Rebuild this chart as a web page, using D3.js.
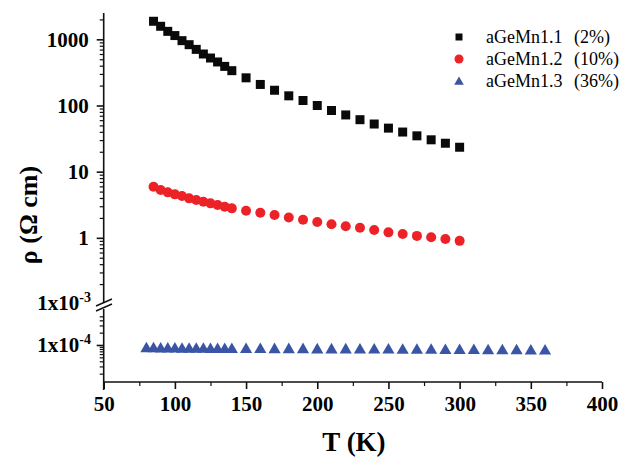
<!DOCTYPE html>
<html>
<head>
<meta charset="utf-8">
<script src="https://cdn.jsdelivr.net/npm/d3@7"></script>
<style>
  body { margin: 0; background: #fff; }
  text { font-family: "Liberation Serif", "Times New Roman", serif; }
</style>
</head>
<body>
<script>
// temperatures (K) and resistivities (ohm cm)
var tempSq = [85, 90, 95, 100, 105, 110, 115, 120, 125, 130, 135, 140,
  150, 160, 170, 180, 190, 200, 210, 220, 230, 240, 250, 260, 270, 280, 290, 300];
var rhoSq = [1875, 1575, 1320, 1140, 955, 830, 705, 600, 522, 455, 390, 336,
  262, 208, 170, 140, 119, 100, 84, 72, 61, 52.5, 45.5, 39.7, 34.8, 30.3, 26.9, 23.4];

var tempCirc = [85, 90, 95, 100, 105, 110, 115, 120, 125, 130, 135, 140,
  150, 160, 170, 180, 190, 200, 210, 220, 230, 240, 250, 260, 270, 280, 290, 300];
var rhoCirc = [5.93, 5.28, 4.87, 4.54, 4.28, 3.95, 3.73, 3.51, 3.32, 3.13, 2.95, 2.79,
  2.56, 2.39, 2.21, 2.03, 1.88, 1.73, 1.60, 1.50, 1.42, 1.31, 1.21, 1.14, 1.07, 1.02, 0.96, 0.90];

var tempTri = [80, 85, 90, 95, 100, 105, 110, 115, 120, 125, 130, 135, 140,
  150, 160, 170, 180, 190, 200, 210, 220, 230, 240, 250, 260, 270, 280, 290, 300,
  310, 320, 330, 340, 350, 360];
var rhoTri = [8.1e-5, 8.1e-5, 8.0e-5, 8.0e-5, 8.0e-5, 7.9e-5, 7.9e-5, 7.9e-5, 7.9e-5,
  7.8e-5, 7.8e-5, 7.8e-5, 7.8e-5,
  7.8e-5, 7.8e-5, 7.7e-5, 7.7e-5, 7.7e-5, 7.6e-5, 7.6e-5, 7.6e-5, 7.5e-5, 7.5e-5,
  7.5e-5, 7.4e-5, 7.4e-5, 7.4e-5, 7.3e-5, 7.3e-5, 7.3e-5, 7.2e-5, 7.2e-5, 7.2e-5,
  7.1e-5, 7.1e-5];

var seriesNames = ["aGeMn1.1", "aGeMn1.2", "aGeMn1.3"];
var seriesPct = ["(2%)", "(10%)", "(36%)"];
var seriesColors = ["#0a0a0a", "#ec2227", "#3a55a5"];

var xTicks = [50, 100, 150, 200, 250, 300, 350, 400];
var xMinor = [75, 125, 175, 225, 275, 325, 375];
var yTopTicks = [1, 10, 100, 1000];
var yBotTicks = [1e-4];

var svg = d3.select("body").append("svg")
  .attr("width", 619)
  .attr("height", 457);

var x = d3.scaleLinear().domain([50, 400]).range([103.7, 602]);
// broken log axis: upper part and lower part
var yTop = d3.scaleLog().domain([0.1, 2500]).range([304, 13]);
var yBot = d3.scaleLog().domain([1.25e-5, 1e-3]).range([382, 304]);

function minorsFor(lo, hi) {
  var out = [];
  for (var e = -6; e <= 4; e++) {
    for (var m = 2; m <= 9; m++) {
      var v = m * Math.pow(10, e);
      if (v > lo && v < hi) out.push(v);
    }
  }
  return out;
}

var axisColor = "#111";

function styleTicks(sel) {
  sel.attr("font-family", null);
  sel.selectAll("text").attr("fill", "#000")
    .style("font-size", "21px").style("font-weight", "bold")
    .style("font-family", "'Liberation Serif', serif");
}

// x axis
var xg = svg.append("g").attr("transform", "translate(0,382)");
xg.call(d3.axisBottom(x).tickValues(xTicks).tickSize(7).tickSizeOuter(0).tickPadding(7));
xg.append("g").call(d3.axisBottom(x).tickValues(xMinor).tickSize(4).tickFormat(""))
  .select(".domain").remove();
xg.select(".domain").attr("d", "M" + x(50) + ",0H" + x(400));
styleTicks(xg);

// upper y axis
var yg1 = svg.append("g").attr("transform", "translate(103.7,0)");
yg1.call(d3.axisLeft(yTop).tickValues(yTopTicks).tickSize(7).tickSizeOuter(0)
  .tickPadding(8).tickFormat(d3.format("d")));
yg1.select(".domain").attr("d", "M0,13V303");
yg1.append("g").call(d3.axisLeft(yTop).tickValues(minorsFor(0.11, 2500)).tickSize(4).tickFormat(""))
  .select(".domain").remove();
styleTicks(yg1);

// lower y axis
var yg2 = svg.append("g").attr("transform", "translate(103.7,0)");
yg2.call(d3.axisLeft(yBot).tickValues(yBotTicks).tickSize(7).tickSizeOuter(0).tickFormat(""));
yg2.select(".domain").attr("d", "M0,309V390");
yg2.append("g").call(d3.axisLeft(yBot).tickValues(minorsFor(1.3e-5, 5.5e-4)).tickSize(4).tickFormat(""))
  .select(".domain").remove();

svg.selectAll(".domain, .tick line").attr("stroke", axisColor).attr("stroke-width", 1.6);
svg.selectAll("g g .tick line").attr("stroke-width", 1.2);

// break marks
svg.append("line").attr("x1", 96).attr("y1", 306).attr("x2", 112).attr("y2", 299)
  .attr("stroke", axisColor).attr("stroke-width", 1.4);
svg.append("line").attr("x1", 96).attr("y1", 311).attr("x2", 112).attr("y2", 304)
  .attr("stroke", axisColor).attr("stroke-width", 1.4);

// scientific labels
function sciLabel(yPos, exp) {
  var t = svg.append("text")
    .attr("x", 91).attr("y", yPos)
    .attr("text-anchor", "end")
    .style("font-size", "21px").style("font-weight", "bold");
  t.append("tspan").text("1x10");
  t.append("tspan").attr("dy", -8).style("font-size", "14px").text(exp);
}
sciLabel(310, "-3");
sciLabel(352, "-4");

// axis titles
svg.append("text")
  .attr("x", 354).attr("y", 451)
  .attr("text-anchor", "middle")
  .style("font-size", "27px").style("font-weight", "bold")
  .text("T (K)");

svg.append("text")
  .attr("transform", "translate(37,215) rotate(-90)")
  .attr("text-anchor", "middle")
  .style("font-size", "26px").style("font-weight", "bold")
  .text("\u03c1 (\u03a9 cm)");

// data marks
var sq = d3.symbol().type(d3.symbolSquare).size(81);
var tri = d3.symbol().type(d3.symbolTriangle).size(64);

svg.append("g").selectAll("path")
  .data(tempSq.map(function(t, i) { return [t, rhoSq[i]]; }))
  .join("path")
  .attr("d", sq)
  .attr("transform", function(d) { return getTranslateString(x(d[0]), yTop(d[1])); })
  .attr("fill", seriesColors[0]);

svg.append("g").selectAll("circle")
  .data(tempCirc.map(function(t, i) { return [t, rhoCirc[i]]; }))
  .join("circle")
  .attr("cx", function(d) { return x(d[0]); })
  .attr("cy", function(d) { return yTop(d[1]); })
  .attr("r", 5)
  .attr("fill", seriesColors[1]);

svg.append("g").selectAll("path")
  .data(tempTri.map(function(t, i) { return [t, rhoTri[i]]; }))
  .join("path")
  .attr("d", tri)
  .attr("transform", function(d) { return getTranslateString(x(d[0]), yBot(d[1])); })
  .attr("fill", seriesColors[2]);

function getTranslateString(a, b) {
  return "translate(" + a + " " + b + ")";
}

// legend
var legendY = [37, 59, 81];
var lg = svg.append("g");
lg.append("path").attr("d", d3.symbol().type(d3.symbolSquare).size(49))
  .attr("transform", getTranslateString(459, legendY[0])).attr("fill", seriesColors[0]);
lg.append("circle").attr("cx", 459).attr("cy", legendY[1]).attr("r", 4.5)
  .attr("fill", seriesColors[1]);
lg.append("path").attr("d", d3.symbol().type(d3.symbolTriangle).size(40))
  .attr("transform", getTranslateString(459, legendY[2] + 1)).attr("fill", seriesColors[2]);

seriesNames.forEach(function(name, i) {
  var t = lg.append("text")
    .attr("y", legendY[i]).attr("dy", "0.33em")
    .style("font-size", "18px");
  t.append("tspan").attr("x", 486).text(name);
  t.append("tspan").attr("x", 574).text(seriesPct[i]);
});
</script>
</body>
</html>
